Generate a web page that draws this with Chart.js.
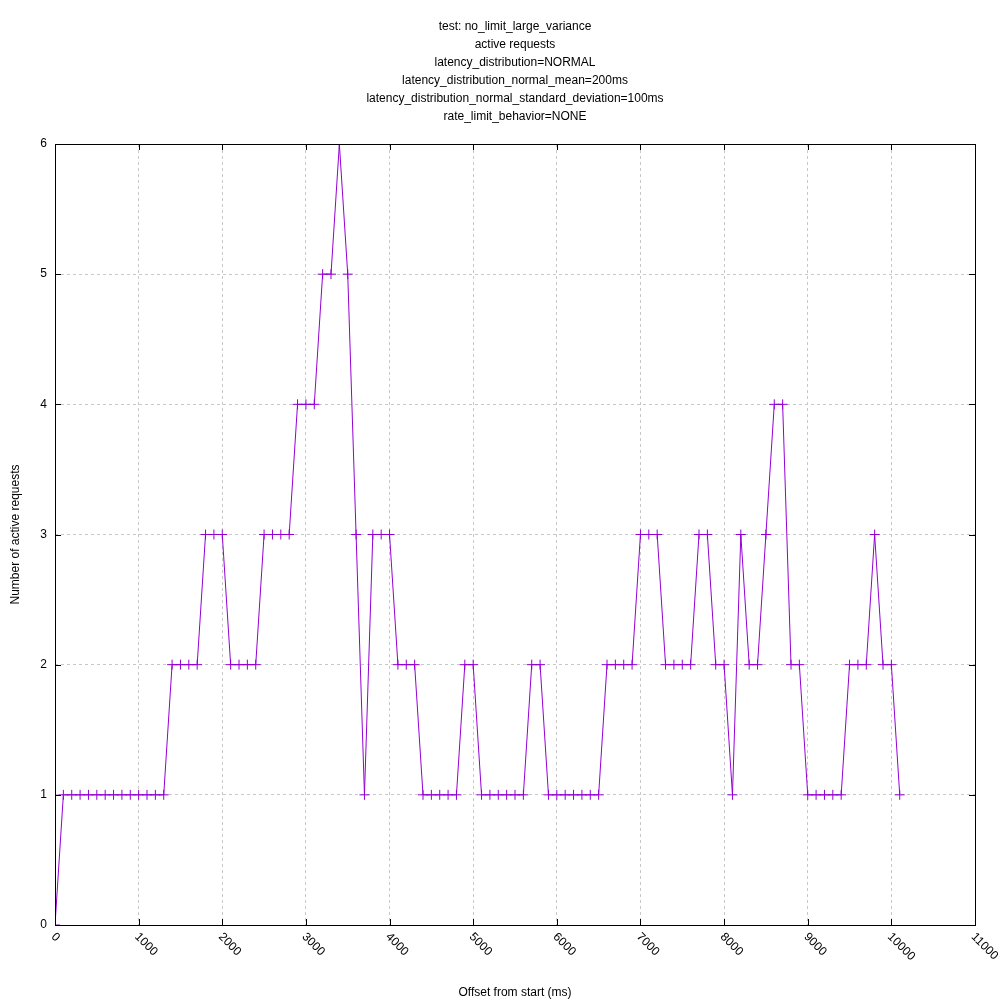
<!DOCTYPE html>
<html>
<head>
<meta charset="utf-8">
<script src="https://cdn.jsdelivr.net/npm/chart.js@4"></script>
<style>
html, body { margin: 0; padding: 0; background: #fff; }
#wrap { width: 1000px; height: 1000px; }
</style>
</head>
<body>
<div id="wrap"><canvas id="chart"></canvas></div>
<script>
// offset (ms) and active request counts, sampled every 100 ms
const offsets = [];
for (let t = 0; t <= 10100; t += 100) offsets.push(t);
const activeRequests = [
  0, 1, 1, 1, 1, 1, 1, 1, 1, 1, 1, 1, 1, 1,
  2, 2, 2, 2, 3, 3, 3, 2, 2, 2, 2, 3, 3, 3, 3,
  4, 4, 4, 5, 5, 6, 5, 3, 1, 3, 3, 3, 2, 2, 2,
  1, 1, 1, 1, 1, 2, 2, 1, 1, 1, 1, 1, 1, 2, 2,
  1, 1, 1, 1, 1, 1, 1, 2, 2, 2, 2, 3, 3, 3,
  2, 2, 2, 2, 3, 3, 2, 2, 1, 3, 2, 2, 3, 4, 4,
  2, 2, 1, 1, 1, 1, 1, 2, 2, 2, 3, 2, 2, 1
];
const xTicks = [0, 1000, 2000, 3000, 4000, 5000, 6000, 7000, 8000, 9000, 10000, 11000];
const yTicks = [0, 1, 2, 3, 4, 5, 6];
const titleLines = [
  'test: no_limit_large_variance',
  'active requests',
  'latency_distribution=NORMAL',
  'latency_distribution_normal_mean=200ms',
  'latency_distribution_normal_standard_deviation=100ms',
  'rate_limit_behavior=NONE'
];

const FONT = 'Liberation Sans, Arial, sans-serif';

// gnuplot-style tick marks on all sides, rotated x labels, title over plot
const gnuplotAxes = {
  id: 'gnuplotAxes',
  afterDraw(chart) {
    const ctx = chart.ctx, a = chart.chartArea;
    const xs = chart.scales.x, ys = chart.scales.y;
    ctx.save();
    ctx.strokeStyle = '#000';
    ctx.lineWidth = 1;
    ctx.strokeRect(Math.round(a.left) + 0.5, Math.round(a.top) + 0.5,
      Math.round(a.right - a.left), Math.round(a.bottom - a.top));
    ctx.beginPath();
    xTicks.forEach(v => {
      const px = Math.round(xs.getPixelForValue(v)) + 0.5;
      ctx.moveTo(px, a.bottom); ctx.lineTo(px, a.bottom - 6);
      ctx.moveTo(px, a.top); ctx.lineTo(px, a.top + 6);
    });
    yTicks.forEach(v => {
      const py = Math.round(ys.getPixelForValue(v)) + 0.5;
      ctx.moveTo(a.left, py); ctx.lineTo(a.left + 6, py);
      ctx.moveTo(a.right, py); ctx.lineTo(a.right - 6, py);
    });
    ctx.stroke();
    ctx.fillStyle = '#000';
    ctx.font = '12px ' + FONT;
    ctx.textAlign = 'left';
    ctx.textBaseline = 'middle';
    xTicks.forEach(v => {
      const px = xs.getPixelForValue(v);
      ctx.save();
      ctx.translate(px - 2, a.bottom + 10);
      ctx.rotate(Math.PI / 4);
      ctx.fillText(String(v), 0, 0);
      ctx.restore();
    });
    ctx.textAlign = 'center';
    const cx = (a.left + a.right) / 2;
    titleLines.forEach((line, i) => ctx.fillText(line, cx, 27 + i * 18));
    ctx.restore();
  }
};

new Chart(document.getElementById('chart'), {
  type: 'line',
  data: {
    datasets: [{
      data: offsets.map((t, i) => ({ x: t, y: activeRequests[i] })),
      borderColor: '#9400d3',
      borderWidth: 1,
      pointStyle: 'cross',
      pointRadius: 5,
      pointBorderColor: '#9400d3',
      pointBorderWidth: 1,
      tension: 0
    }]
  },
  options: {
    responsive: true,
    maintainAspectRatio: false,
    animation: false,
    layout: { padding: { left: 0, right: 25, top: 144, bottom: 0 } },
    plugins: {
      legend: { display: false },
      tooltip: { enabled: false },
      title: { display: false }
    },
    scales: {
      x: {
        type: 'linear',
        min: 0, max: 11000,
        afterBuildTicks: s => { s.ticks = xTicks.map(v => ({ value: v })); },
        afterFit: s => { s.height = 75; },
        ticks: { display: false },
        grid: { color: '#c8c8c8', drawTicks: false },
        border: { display: false, dash: [3, 3] },
        title: {
          display: true, text: 'Offset from start (ms)', color: '#000',
          font: { family: FONT, size: 12 }, padding: { top: 51, bottom: 0 }
        }
      },
      y: {
        min: 0, max: 6,
        afterBuildTicks: s => { s.ticks = yTicks.map(v => ({ value: v })); },
        afterFit: s => { s.width = 55; },
        ticks: { color: '#000', font: { family: FONT, size: 12 }, padding: 8 },
        grid: { color: '#c8c8c8', drawTicks: false },
        border: { display: false, dash: [3, 3] },
        title: {
          display: true, text: 'Number of active requests', color: '#000',
          font: { family: FONT, size: 12 }, padding: { top: 8, bottom: 0 }
        }
      }
    }
  },
  plugins: [gnuplotAxes]
});
</script>
</body>
</html>
